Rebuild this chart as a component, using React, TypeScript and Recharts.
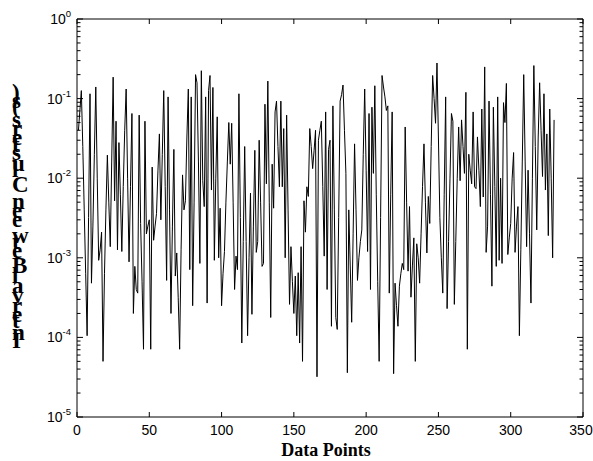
import React from 'react';
import { LineChart, Line, XAxis, YAxis, ReferenceLine } from 'recharts';

// Interval values (s), one per data point (x = 1 .. 330)
const intervalValues: number[] = [
  4.0e-2, 7.1e-2, 1.26e-1, 2.5e-2, 4.0e-3, 6.3e-4, 1.05e-4, 3.2e-3, 1.15e-1, 4.8e-4,
  2.5e-3, 2.0e-2, 1.4e-1, 1e-2, 9.3e-4, 1.26e-3, 2.1e-3, 5.0e-5, 6.3e-4, 4.0e-3,
  1.95e-2, 5.0e-3, 1.38e-3, 1.6e-2, 1.86e-1, 5.2e-3, 5.2e-2, 1.26e-3, 2.8e-2, 6.3e-3,
  1.2e-3, 7.9e-3, 4.0e-2, 1.32e-1, 1e-2, 8.9e-4, 7.9e-3, 6.5e-2, 2.0e-4, 7.8e-4,
  4.0e-4, 3.6e-4, 6.2e-2, 2.7e-3, 5.0e-4, 7.1e-5, 5.2e-2, 2.0e-3, 2.5e-3, 3.0e-3,
  7.1e-5, 1.38e-2, 1.66e-3, 2.5e-3, 3.6e-3, 1.26e-2, 3.6e-2, 3.0e-3, 2.0e-2, 1.26e-1,
  7.9e-3, 5.2e-4, 1.05e-1, 4.0e-3, 2.0e-4, 2.5e-3, 2.3e-2, 5.9e-4, 1.15e-3, 3.2e-4,
  7.1e-5, 1.26e-3, 1.1e-2, 4.0e-3, 5.2e-3, 3.2e-2, 1.32e-1, 7.1e-4, 1.05e-1, 2.5e-4,
  5.0e-3, 2.0e-1, 1.58e-1, 1.6e-2, 8.5e-4, 2.24e-1, 9.3e-3, 4.4e-3, 1.05e-1, 2.7e-4,
  1.26e-1, 1.95e-1, 7.1e-3, 1.38e-1, 9.3e-4, 1e-2, 5.9e-2, 1e-3, 4.2e-3, 2.5e-4,
  6.3e-4, 1.2e-3, 5.0e-3, 1.6e-2, 5.0e-2, 1.5e-2, 4.9e-2, 5.0e-3, 4.0e-4, 1.05e-3,
  7.1e-4, 1.15e-1, 3.2e-3, 8.5e-5, 1.6e-3, 2.5e-2, 1.6e-3, 1.05e-4, 1e-3, 6.5e-3,
  1.95e-4, 2.5e-3, 2.24e-2, 1.17e-3, 1.6e-3, 3.0e-2, 5.0e-3, 7.8e-4, 8.5e-4, 8.5e-2,
  8.5e-3, 1.66e-1, 5.0e-3, 1.78e-4, 1.5e-2, 4.2e-3, 6.8e-2, 9.3e-2, 2.5e-2, 7.8e-3,
  9.3e-2, 7.8e-3, 4.2e-2, 1e-3, 6.2e-2, 4.0e-3, 2.6e-4, 1.38e-3, 5.0e-4, 2.0e-4,
  5.9e-4, 1.05e-4, 6.5e-4, 8.5e-5, 1.38e-3, 5.0e-5, 5.2e-3, 2.1e-3, 7.8e-3, 5.9e-3,
  4.2e-2, 2.5e-2, 1.32e-2, 2.24e-2, 4.0e-2, 3.2e-5, 3.0e-2, 4.0e-2, 5.2e-2, 7.9e-3,
  1.05e-3, 6.8e-2, 4.0e-4, 2.3e-2, 3.0e-2, 1.38e-4, 8.1e-2, 4.0e-3, 1.78e-4, 1.26e-4,
  3.2e-3, 9.3e-2, 1.12e-1, 1.48e-1, 4.0e-2, 1.15e-2, 3.6e-5, 4.0e-3, 7.9e-4, 1.55e-4,
  2.0e-3, 2.7e-2, 4.0e-3, 5.2e-4, 1e-3, 1.6e-3, 2.24e-3, 2.0e-2, 1.32e-1, 1.26e-2,
  1.2e-3, 6.5e-2, 4.0e-4, 7.8e-2, 1.15e-2, 1.45e-1, 6.3e-3, 5.0e-4, 5.0e-5, 3.2e-3,
  1.95e-1, 1.4e-1, 1.05e-1, 7.1e-2, 8.1e-2, 3.6e-4, 6.3e-3, 6.8e-2, 3.5e-5, 4.8e-4,
  2.5e-4, 1.38e-4, 4.4e-4, 6.3e-4, 8.5e-4, 7.1e-4, 4.4e-2, 5.0e-3, 6.8e-4, 4.4e-3,
  3.2e-4, 7.9e-4, 1.78e-3, 5.0e-5, 1.5e-3, 1e-3, 4.8e-4, 2.0e-3, 7.9e-3, 2.7e-2,
  5.0e-3, 1.15e-3, 5.9e-3, 2.7e-3, 2.5e-2, 1.95e-1, 1e-1, 4.9e-2, 2.8e-1, 3.2e-2,
  3.2e-3, 1e-3, 3.6e-4, 6.3e-3, 1.05e-1, 2.3e-4, 1.6e-3, 1e-2, 6.5e-2, 5.2e-2,
  2.6e-4, 1.6e-3, 1e-2, 4.4e-2, 9.3e-3, 5.4e-2, 2.5e-2, 1.15e-2, 1.2e-1, 7.1e-5,
  2.0e-2, 1.26e-2, 8.5e-3, 6.8e-2, 7.8e-3, 7.4e-3, 3.3e-2, 1.26e-2, 4.4e-3, 7.4e-2,
  5.8e-3, 2.5e-1, 1.17e-3, 2.5e-3, 9.3e-2, 6.3e-3, 4.4e-4, 7.8e-2, 7.9e-3, 7.8e-4,
  1.05e-1, 9.3e-4, 1.0e-2, 8.5e-4, 8.9e-2, 5.0e-2, 1.55e-1, 1.1e-3, 1.78e-3, 2.7e-3,
  1e-2, 2.1e-2, 1.17e-3, 2.5e-3, 4.4e-3, 1.05e-4, 1.26e-3, 1.6e-2, 2.0e-1, 1.6e-2,
  1.38e-3, 1.26e-2, 2.0e-3, 2.7e-4, 1e-2, 2.6e-1, 2.5e-2, 2.24e-3, 3.2e-2, 1.58e-1,
  4.0e-2, 1.05e-2, 1.15e-1, 7.1e-3, 3.6e-2, 1.9e-3, 7.4e-2, 1e-2, 1e-3, 5.4e-2,
];

const xTicks = [0, 50, 100, 150, 200, 250, 300, 350];
const yMajorTicks = [1e-5, 1e-4, 1e-3, 1e-2, 1e-1, 1];
const minorMultipliers = [2, 3, 4, 5, 6, 7, 8, 9];

const xLabel = 'Data Points';
const yLabel = 'Interval Between Clusters (s)';

const data = intervalValues.map((v, i) => ({ x: i + 1, v }));

const yTicks: number[] = [];
yMajorTicks.forEach((m, idx) => {
  yTicks.push(m);
  if (idx < yMajorTicks.length - 1) {
    minorMultipliers.forEach((k) => yTicks.push(+(m * k).toPrecision(3)));
  }
});

const W = 593;
const H = 461;
const PLOT_LEFT = 77;
const PLOT_RIGHT = 583;
const PLOT_TOP = 19;
const PLOT_BOTTOM = 417;

const sansFont = '"Liberation Sans", Arial, Helvetica, sans-serif';
const serifFont = '"Liberation Serif", "Times New Roman", Times, serif';

const YTick = (props: any) => {
  const { y, payload } = props;
  const v = payload.value as number;
  const lg = Math.log10(v);
  const exp = Math.round(lg);
  const isMajor = Math.abs(lg - exp) < 1e-6;
  const len = isMajor ? 6 : 3.5;
  return (
    <g>
      <line x1={PLOT_LEFT} x2={PLOT_LEFT + len} y1={y} y2={y} stroke="#000" strokeWidth={1} />
      <line x1={PLOT_RIGHT} x2={PLOT_RIGHT - len} y1={y} y2={y} stroke="#000" strokeWidth={1} />
      {isMajor && (
        <text x={71} y={y + 5} textAnchor="end" fontFamily={sansFont} fontSize={14} fill="#000">
          10
          <tspan dy={-7} fontSize={9.5}>{String(exp)}</tspan>
        </text>
      )}
    </g>
  );
};

const XTick = (props: any) => {
  const { x, payload } = props;
  // keep the last label inside the picture
  const labelX = Math.min(x, W - 12);
  return (
    <g>
      <line x1={x} x2={x} y1={PLOT_BOTTOM} y2={PLOT_BOTTOM - 5} stroke="#000" strokeWidth={1} />
      <line x1={x} x2={x} y1={PLOT_TOP} y2={PLOT_TOP + 5} stroke="#000" strokeWidth={1} />
      <text x={labelX} y={PLOT_BOTTOM + 18} textAnchor="middle" fontFamily={sansFont} fontSize={14} fill="#000">
        {payload.value}
      </text>
    </g>
  );
};

const renderYLabel = () => {
  const cx = 12;
  const cy = 220;
  return (
    <text
      x={cx}
      y={cy}
      transform={`rotate(-90, ${cx}, ${cy})`}
      rotate="90"
      textAnchor="middle"
      textLength={256}
      lengthAdjust="spacing"
      fontFamily={serifFont}
      fontWeight="bold"
      fontSize={23}
      fill="#000"
    >
      {yLabel}
    </text>
  );
};

const renderXLabel = () => (
  <text
    x={(PLOT_LEFT + PLOT_RIGHT) / 2 - 4}
    y={456}
    textAnchor="middle"
    fontFamily={serifFont}
    fontWeight="bold"
    fontSize={18}
    fill="#000"
  >
    {xLabel}
  </text>
);

export default function App() {
  return (
    <div style={{ position: 'absolute', left: 0, top: 0, width: W, height: H, background: '#fff' }}>
      <LineChart
        width={W}
        height={H}
        data={data}
        margin={{ top: PLOT_TOP, right: W - PLOT_RIGHT, bottom: 0, left: 0 }}
      >
        <XAxis
          dataKey="x"
          type="number"
          domain={[0, 350]}
          ticks={xTicks}
          interval={0}
          tick={<XTick />}
          tickLine={false}
          axisLine={{ stroke: '#000', strokeWidth: 1 }}
          height={H - PLOT_BOTTOM}
          allowDataOverflow
          label={{ content: renderXLabel }}
        />
        <YAxis
          scale="log"
          domain={[1e-5, 1]}
          ticks={yTicks}
          interval={0}
          tick={<YTick />}
          tickLine={false}
          axisLine={{ stroke: '#000', strokeWidth: 1 }}
          width={PLOT_LEFT}
          allowDataOverflow
          label={{ content: renderYLabel }}
        />
        <ReferenceLine y={1} stroke="#000" strokeWidth={1} />
        <ReferenceLine x={350} stroke="#000" strokeWidth={1} />
        <Line
          type="linear"
          dataKey="v"
          stroke="#000"
          strokeWidth={1}
          dot={false}
          isAnimationActive={false}
        />
      </LineChart>
    </div>
  );
}
